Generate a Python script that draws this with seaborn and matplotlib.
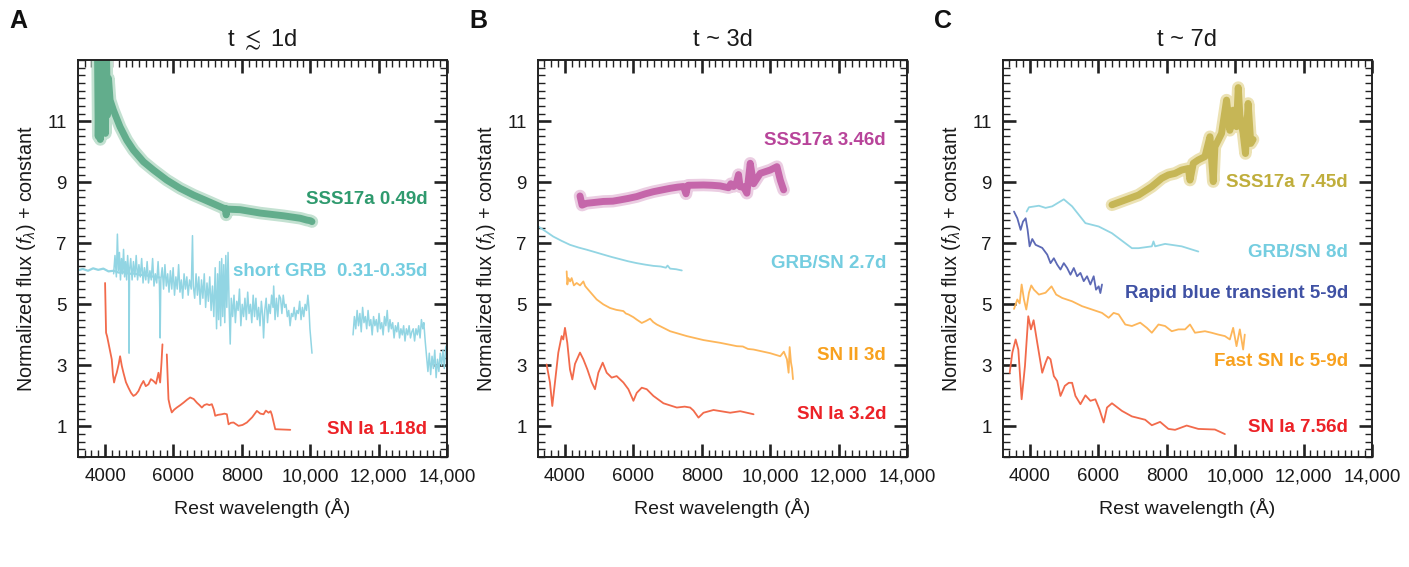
import numpy as np
import matplotlib
matplotlib.use('Agg')
import matplotlib.pyplot as plt
import matplotlib.patheffects as pe
from matplotlib.ticker import MultipleLocator, FixedLocator, FuncFormatter
import seaborn as sns

# ---------------- data ----------------
# panel A : t <~ 1d
sss_a_wl = [3780, 3800, 3830, 3860, 3890, 3920, 3950, 3980, 4010, 4040, 4070, 4100, 4146, 4244,
            4439, 4634, 4829, 5122, 5415, 5805, 6195, 6585, 6976, 7463, 7520, 7541, 7560, 7951,
            8537, 9220, 9707, 9900, 10000, 10049]
sss_a_fx = [13.2, 10.5, 12.8, 10.4, 13.4, 11.3, 13.5, 12.2, 10.6, 13.3, 11.2, 12.4, 11.69, 11.36,
            10.81, 10.38, 10.05, 9.67, 9.40, 9.07, 8.80, 8.58, 8.39, 8.15, 8.14, 7.93, 8.12, 8.10,
            7.99, 7.90, 7.82, 7.76, 7.74, 7.71]

grb_a_smooth_wl = [3220, 3350, 3500, 3650, 3800, 3950, 4100, 4250, 4400, 4550, 4700, 4850, 5000,
                   5150, 5300, 5450, 5600]
grb_a_smooth_fx = [6.12, 6.16, 6.10, 6.18, 6.13, 6.17, 6.08, 6.10, 6.04, 6.06, 6.00, 6.01, 5.97,
                   5.96, 5.93, 5.90, 5.88]

grb_a1_wl = [4250, 4290, 4330, 4360, 4390, 4420, 4450, 4480, 4510, 4540, 4570, 4600, 4630, 4660,
             4690, 4702, 4715, 4750, 4790, 4830, 4870, 4910, 4950, 4990, 5030, 5070, 5110, 5150,
             5190, 5230, 5270, 5310, 5350, 5390, 5430, 5470, 5510, 5550, 5590, 5610, 5630, 5670,
             5710, 5750, 5790, 5830, 5870, 5910, 5950, 5990, 6030, 6070, 6110, 6150, 6190, 6230,
             6270, 6310, 6350, 6390, 6430, 6470, 6520, 6556, 6580, 6620, 6660, 6700, 6740, 6780,
             6820, 6860, 6900, 6940, 6980, 7020, 7060, 7100, 7140, 7180, 7220, 7260, 7290, 7320,
             7350, 7380, 7410, 7440, 7470, 7500, 7530, 7560, 7596, 7630, 7659, 7690, 7730, 7770,
             7810, 7850, 7890, 7930, 7970, 8010, 8050, 8090, 8130, 8170, 8210, 8250, 8290, 8330,
             8370, 8410, 8450, 8490, 8530, 8570, 8610, 8634, 8670, 8710, 8750, 8790, 8830, 8870,
             8910, 8930, 8970, 9010, 9050, 9090, 9130, 9170, 9210, 9250, 9290, 9330, 9370, 9410,
             9450, 9490, 9530, 9570, 9610, 9650, 9690, 9730, 9770, 9810, 9850, 9890, 9930, 9960,
             9990, 10020, 10050]
grb_a1_fx = [6.0, 6.6, 5.9, 7.3, 6.1, 6.7, 5.8, 6.5, 6.0, 6.8, 5.9, 6.4, 5.8, 6.6,
             6.0, 3.4, 6.1, 6.5, 5.8, 6.4, 5.9, 6.6, 5.8, 6.3, 5.9, 6.5, 5.7, 6.2,
             5.8, 6.4, 5.7, 6.1, 5.8, 6.5, 5.6, 6.0, 5.7, 6.4, 5.6, 3.9, 5.8, 6.2,
             5.5, 6.3, 5.6, 6.0, 5.4, 6.1, 5.5, 6.2, 5.3, 5.9, 5.5, 6.3, 5.4, 5.8,
             5.2, 6.0, 5.5, 5.9, 5.3, 5.8, 5.5, 7.25, 5.6, 5.2, 6.0, 5.3, 5.9, 5.0,
             5.8, 5.2, 6.0, 4.9, 5.7, 5.1, 5.9, 4.8, 5.6, 4.6, 6.2, 4.2, 6.0, 4.5,
             6.4, 4.3, 6.5, 4.6, 6.3, 4.4, 6.6, 4.9, 6.7, 4.8, 3.7, 5.2, 4.6, 5.3,
             4.4, 5.1, 4.8, 5.5, 4.3, 5.0, 4.6, 5.2, 4.5, 5.4, 4.7, 5.0, 4.4, 5.3,
             4.6, 5.2, 4.5, 4.9, 4.3, 5.1, 4.6, 3.9, 4.8, 5.2, 4.4, 5.0, 4.7, 5.3,
             4.9, 5.6, 4.5, 5.2, 4.6, 5.3, 5.2, 4.7, 5.3, 4.9, 5.0, 4.6, 4.8, 4.3,
             4.7, 4.6, 4.9, 4.5, 4.8, 4.7, 5.1, 4.5, 4.9, 4.6, 5.0, 4.8, 5.3, 4.9,
             4.2, 3.8, 3.4]

grb_a2_wl = [11250, 11290, 11330, 11370, 11410, 11450, 11490, 11530, 11570, 11610, 11650, 11690,
             11730, 11770, 11810, 11850, 11890, 11930, 11970, 12010, 12050, 12090, 12130, 12170,
             12210, 12250, 12290, 12330, 12370, 12410, 12450, 12490, 12530, 12570, 12610, 12650,
             12690, 12730, 12770, 12810, 12850, 12890, 12930, 12970, 13010, 13050, 13090, 13130,
             13170, 13210, 13250, 13290, 13320, 13360, 13400, 13440, 13480, 13520, 13560, 13600,
             13640, 13680, 13720, 13760, 13800, 13840, 13880, 13920, 13960, 14000]
grb_a2_fx = [4.0, 4.6, 4.2, 4.8, 4.3, 4.7, 4.1, 4.9, 4.4, 4.6, 4.2, 4.8,
             4.3, 4.5, 4.0, 4.6, 4.3, 4.5, 4.1, 4.7, 4.2, 4.4, 4.0, 4.6,
             4.3, 4.8, 4.1, 4.5, 4.2, 4.4, 3.9, 4.3, 4.1, 4.4, 3.9, 4.2,
             4.0, 4.3, 3.8, 4.2, 4.0, 4.3, 3.9, 4.1, 4.2, 3.8, 4.2, 4.0,
             4.3, 3.9, 4.5, 4.2, 4.4, 3.8, 3.3, 2.8, 3.4, 2.7, 3.3, 2.9,
             3.5, 2.6, 3.2, 2.8, 3.4, 3.0, 3.5, 2.9, 3.6, 3.7]

ia_a1_wl = [4000, 4029, 4060, 4098, 4150, 4195, 4230, 4263, 4300, 4341, 4400, 4439, 4490, 4537,
            4610, 4683, 4760, 4829, 4900, 4976, 5050, 5122, 5190, 5268, 5340, 5415, 5490, 5561,
            5610, 5650, 5678]
ia_a1_fx = [5.70, 4.07, 3.95, 3.74, 3.45, 3.20, 2.70, 2.44, 2.62, 2.76, 3.05, 3.30, 2.98, 2.76,
            2.45, 2.27, 2.10, 2.00, 2.05, 2.16, 2.35, 2.49, 2.32, 2.38, 2.55, 2.49, 2.40, 2.76,
            2.44, 3.10, 3.69]
ia_a2_wl = [5805, 5830, 5854, 5900, 5951, 6020, 6098, 6200, 6293, 6400, 6488, 6590, 6683, 6760,
            6829, 6900, 6976, 7050, 7122, 7180, 7220, 7300, 7415, 7490, 7561, 7610, 7680, 7756,
            7902, 8020, 8146, 8300, 8439, 8540, 8634, 8700, 8780, 8840, 8878, 8976, 9200, 9415]
ia_a2_fx = [3.36, 2.60, 1.89, 1.65, 1.46, 1.55, 1.62, 1.70, 1.78, 1.88, 1.95, 1.90, 1.78, 1.70,
            1.62, 1.70, 1.73, 1.70, 1.73, 1.55, 1.35, 1.38, 1.40, 1.42, 1.40, 1.07, 1.12, 1.13,
            1.02, 1.05, 1.13, 1.30, 1.51, 1.42, 1.40, 1.52, 1.45, 1.50, 1.38, 0.91, 0.90, 0.89]

# panel B : t ~ 3d
sss_b_wl = [4439, 4500, 4634, 4800, 5122, 5400, 5610, 5850, 6098, 6350, 6586, 6850, 7074, 7300,
            7465, 7540, 7562, 7600, 8050, 8300, 8538, 8782, 8850, 8929, 9000, 9075, 9120, 9222,
            9319, 9417, 9514, 9710, 10003, 10198, 10296, 10393]
sss_b_fx = [8.55, 8.25, 8.31, 8.33, 8.37, 8.38, 8.42, 8.47, 8.53, 8.62, 8.69, 8.75, 8.80, 8.84,
            8.86, 8.62, 8.75, 8.90, 8.91, 8.90, 8.88, 8.82, 8.95, 8.86, 8.92, 9.25, 8.85, 8.85,
            8.64, 9.62, 8.95, 9.29, 9.40, 9.51, 9.07, 8.75]

grb_b_wl = [3219, 3450, 3658, 3900, 4146, 4400, 4634, 4880, 5122, 5370, 5610, 5850, 6098, 6350,
            6586, 6800, 6950, 7000, 7074, 7250, 7416]
grb_b_fx = [7.55, 7.38, 7.22, 7.08, 6.95, 6.86, 6.79, 6.71, 6.63, 6.55, 6.48, 6.41, 6.35, 6.30,
            6.26, 6.24, 6.20, 6.27, 6.17, 6.15, 6.11]

snii_b_wl = [4049, 4070, 4098, 4150, 4195, 4260, 4342, 4440, 4537, 4590, 4634, 4780, 4927, 5120,
             5318, 5500, 5708, 5780, 5854, 6000, 6098, 6245, 6360, 6489, 6580, 6684, 7074, 7562,
             8050, 8538, 9026, 9200, 9350, 9514, 10002, 10295, 10400, 10490, 10539, 10570, 10608,
             10640, 10667]
snii_b_fx = [6.08, 5.65, 5.86, 5.75, 5.86, 5.62, 5.70, 5.62, 5.75, 5.60, 5.54, 5.35, 5.16, 5.00,
             4.88, 4.82, 4.78, 4.70, 4.67, 4.58, 4.50, 4.39, 4.45, 4.53, 4.42, 4.34, 4.12, 3.96,
             3.83, 3.74, 3.63, 3.62, 3.54, 3.52, 3.40, 3.30, 3.45, 3.20, 2.76, 3.60, 3.10, 2.90,
             2.55]

ia_b_wl = [3463, 3561, 3629, 3707, 3805, 3902, 3950, 4000, 4068, 4146, 4215, 4293, 4439, 4537,
           4654, 4781, 4878, 4976, 5103, 5220, 5366, 5512, 5708, 5854, 6001, 6098, 6245, 6391,
           6586, 6879, 7270, 7500, 7660, 7758, 7904, 8050, 8343, 8831, 9124, 9514]
ia_b_fx = [3.03, 2.44, 1.67, 2.44, 3.42, 3.96, 3.85, 4.23, 3.74, 2.87, 2.54, 3.05, 3.42, 3.20,
           2.87, 2.45, 2.22, 2.76, 3.09, 2.76, 2.60, 2.65, 2.44, 2.22, 1.84, 2.10, 2.27, 2.22,
           2.00, 1.76, 1.62, 1.65, 1.62, 1.52, 1.29, 1.45, 1.54, 1.45, 1.50, 1.40]

# panel C : t ~ 7d
sss_c_wl = [6398, 6787, 7175, 7564, 7855, 8049, 8243, 8437, 8632, 8680, 8777, 8922, 9117, 9263,
            9360, 9408, 9603, 9749, 9845, 9942, 10040, 10091, 10137, 10234, 10302, 10380, 10457,
            10525]
sss_c_fx = [8.26, 8.42, 8.58, 8.86, 9.13, 9.24, 9.29, 9.40, 9.45, 9.07, 9.62, 9.73, 9.84, 10.49,
            9.02, 10.16, 10.60, 11.69, 10.70, 11.36, 10.82, 12.10, 11.20, 10.60, 9.94, 11.58, 10.27,
            10.40]

grb_c_wl = [3903, 3971, 4262, 4456, 4651, 4990, 5233, 5622, 6010, 6398, 6981, 7175, 7564, 7612,
            7661, 7952, 8437, 8923]
grb_c_fx = [8.04, 8.18, 8.23, 8.16, 8.21, 8.44, 8.21, 7.66, 7.55, 7.33, 6.84, 6.84, 6.90, 7.06,
            6.90, 6.98, 6.90, 6.73]

rbt_c_wl = [3534, 3631, 3728, 3796, 3874, 3932, 3990, 4068, 4165, 4262, 4359, 4505, 4602, 4699,
            4796, 4893, 4990, 5088, 5185, 5282, 5379, 5476, 5573, 5670, 5767, 5864, 5932, 6010,
            6059, 6107]
rbt_c_fx = [8.04, 7.82, 7.44, 7.71, 7.82, 7.44, 6.90, 7.14, 6.95, 6.90, 6.85, 6.63, 6.35, 6.51,
            6.30, 6.14, 6.35, 6.19, 5.97, 6.19, 5.92, 6.03, 5.76, 5.92, 5.65, 5.92, 5.48, 5.59,
            5.37, 5.65]

ic_c_wl = [3534, 3631, 3699, 3757, 3825, 3893, 3971, 4039, 4117, 4262, 4456, 4631, 4767, 4942,
           5233, 5524, 5816, 6107, 6301, 6447, 6593, 6787, 6981, 7224, 7418, 7564, 7758, 7952,
           8146, 8340, 8535, 8680, 8826, 9117, 9311, 9506, 9700, 9845, 9942, 10040, 10137, 10234,
           10282]
ic_c_fx = [4.85, 5.16, 5.03, 5.65, 5.16, 4.83, 5.38, 5.62, 5.48, 5.32, 5.38, 5.59, 5.32, 5.21,
           5.10, 4.94, 4.83, 4.72, 4.56, 4.72, 4.67, 4.34, 4.29, 4.40, 4.23, 4.07, 4.34, 4.29,
           4.12, 4.18, 4.18, 4.34, 4.07, 4.12, 4.07, 4.01, 3.96, 3.85, 4.23, 3.63, 4.18, 3.52,
           4.01]

ia_c_wl = [3408, 3486, 3582, 3660, 3757, 3854, 3951, 4029, 4107, 4214, 4359, 4456, 4524, 4602,
           4699, 4796, 4893, 5020, 5136, 5233, 5330, 5476, 5622, 5767, 5913, 6029, 6156, 6253,
           6398, 6690, 6981, 7369, 7564, 7806, 8049, 8243, 8583, 8923, 9409, 9700]
ia_c_fx = [2.76, 3.42, 3.85, 3.52, 1.89, 2.98, 4.61, 4.18, 4.48, 3.74, 2.76, 3.09, 3.28, 3.20,
           2.65, 2.49, 2.00, 2.33, 2.43, 2.43, 2.00, 1.73, 2.02, 1.84, 1.89, 1.57, 1.13, 1.62,
           1.76, 1.51, 1.33, 1.22, 1.04, 1.15, 0.92, 0.89, 1.03, 0.92, 0.90, 0.75]

titles = [r't $\lesssim$ 1d', 't ~ 3d', 't ~ 7d']
panel_letters = ['A', 'B', 'C']
xtick_vals = [4000, 6000, 8000, 10000, 12000, 14000]
xtick_text = ['4000', '6000', '8000', '10,000', '12,000', '14,000']
ytick_vals = [1, 3, 5, 7, 9, 11]

# ---------------- style ----------------
sns.set_theme(style='ticks')
plt.rcParams['font.family'] = ['Liberation Sans', 'DejaVu Sans']
plt.rcParams['mathtext.fontset'] = 'custom'
plt.rcParams['mathtext.rm'] = 'Liberation Sans'
plt.rcParams['mathtext.it'] = 'Liberation Sans:italic'

GREEN, GREEN_H, GREEN_T = '#62ad8c', '#c3e1d1', '#2f9a6e'
BLUE_L, BLUE_LT = '#92d5e3', '#74cde0'
RED, RED_T = '#f26a4b', '#ec2227'
MAG, MAG_H, MAG_T = '#c566aa', '#ebcde2', '#b8449a'
ORA, ORA_T = '#fdb65a', '#f8a11e'
OLV, OLV_H, OLV_T = '#c6b656', '#ece2b4', '#c0ae3c'
BLU, BLU_T = '#5c69b5', '#3f51a4'

fig = plt.figure(figsize=(14.09, 5.67), dpi=100)
lefts = [0.0554, 0.3818, 0.7118]
axes = [fig.add_axes([l, 0.194, 0.2619, 0.700]) for l in lefts]


def spec(ax, wl, fx, color, lw=1.2, halo=None):
    kw = {}
    if halo is not None:
        kw['path_effects'] = [pe.Stroke(linewidth=lw + 4, foreground=halo), pe.Normal()]
    sns.lineplot(x=wl, y=fx, ax=ax, color=color, lw=lw, sort=False, estimator=None,
                 solid_joinstyle='round', solid_capstyle='round', **kw)


def lab(ax, x, y, s, color):
    ax.text(x, y, s, color=color, fontsize=13.5, fontweight='bold', ha='right', va='center')


# panel A
ax = axes[0]
spec(ax, grb_a_smooth_wl, grb_a_smooth_fx, BLUE_L, lw=1.6)
spec(ax, grb_a1_wl, grb_a1_fx, BLUE_L, lw=1.1)
spec(ax, grb_a2_wl, grb_a2_fx, BLUE_L, lw=1.1)
spec(ax, ia_a1_wl, ia_a1_fx, RED, lw=1.3)
spec(ax, ia_a2_wl, ia_a2_fx, RED, lw=1.3)
spec(ax, sss_a_wl, sss_a_fx, GREEN, lw=5.0, halo=GREEN_H)
lab(ax, 13420, 8.45, 'SSS17a 0.49d', GREEN_T)
lab(ax, 13420, 6.08, 'short GRB  0.31-0.35d', BLUE_LT)
lab(ax, 13420, 0.91, 'SN Ia 1.18d', RED_T)

# panel B
ax = axes[1]
spec(ax, grb_b_wl, grb_b_fx, BLUE_L, lw=1.3)
spec(ax, snii_b_wl, snii_b_fx, ORA, lw=1.3)
spec(ax, ia_b_wl, ia_b_fx, RED, lw=1.3)
spec(ax, sss_b_wl, sss_b_fx, MAG, lw=5.0, halo=MAG_H)
lab(ax, 13390, 10.38, 'SSS17a 3.46d', MAG_T)
lab(ax, 13390, 6.35, 'GRB/SN 2.7d', BLUE_LT)
lab(ax, 13390, 3.33, 'SN II 3d', ORA_T)
lab(ax, 13390, 1.40, 'SN Ia 3.2d', RED_T)

# panel C
ax = axes[2]
spec(ax, grb_c_wl, grb_c_fx, BLUE_L, lw=1.3)
spec(ax, rbt_c_wl, rbt_c_fx, BLU, lw=1.3)
spec(ax, ic_c_wl, ic_c_fx, ORA, lw=1.3)
spec(ax, ia_c_wl, ia_c_fx, RED, lw=1.3)
spec(ax, sss_c_wl, sss_c_fx, OLV, lw=5.0, halo=OLV_H)
lab(ax, 13300, 9.00, 'SSS17a 7.45d', OLV_T)
lab(ax, 13300, 6.71, 'GRB/SN 8d', BLUE_LT)
lab(ax, 13300, 5.35, 'Rapid blue transient 5-9d', BLU_T)
lab(ax, 13300, 3.14, 'Fast SN Ic 5-9d', ORA_T)
lab(ax, 13300, 0.97, 'SN Ia 7.56d', RED_T)

for i, ax in enumerate(axes):
    ax.set_xlim(3210, 14000)
    ax.set_ylim(0, 13)
    ax.xaxis.set_major_locator(FixedLocator(xtick_vals))
    ax.set_xticklabels(xtick_text)
    ax.xaxis.set_minor_locator(MultipleLocator(200))
    ax.yaxis.set_major_locator(FixedLocator(ytick_vals))
    ax.yaxis.set_minor_locator(MultipleLocator(0.25))
    ax.tick_params(which='both', direction='in', top=True, right=True, colors='#222222',
                   labelcolor='#1a1a1a')
    ax.tick_params(which='major', length=9.5, width=1.9, labelsize=13.5, pad=8)
    ax.tick_params(which='minor', length=5, width=1.0)
    for sp in ax.spines.values():
        sp.set_linewidth(1.4)
        sp.set_color('#222222')
    ax.set_xlabel('Rest wavelength (Å)', fontsize=14, labelpad=9, color='#1a1a1a')
    ax.set_ylabel(r'Normalized flux ($f_{\lambda}$) + constant', fontsize=14.2, labelpad=7,
                  color='#1a1a1a')
    ax.set_title(titles[i], fontsize=17, pad=10, color='#1a1a1a')
    fig.text(lefts[i] - 0.049, 0.963, panel_letters[i], fontsize=18, fontweight='bold',
             ha='left', va='center', color='#111111')

fig.savefig('out.png', dpi=100)
